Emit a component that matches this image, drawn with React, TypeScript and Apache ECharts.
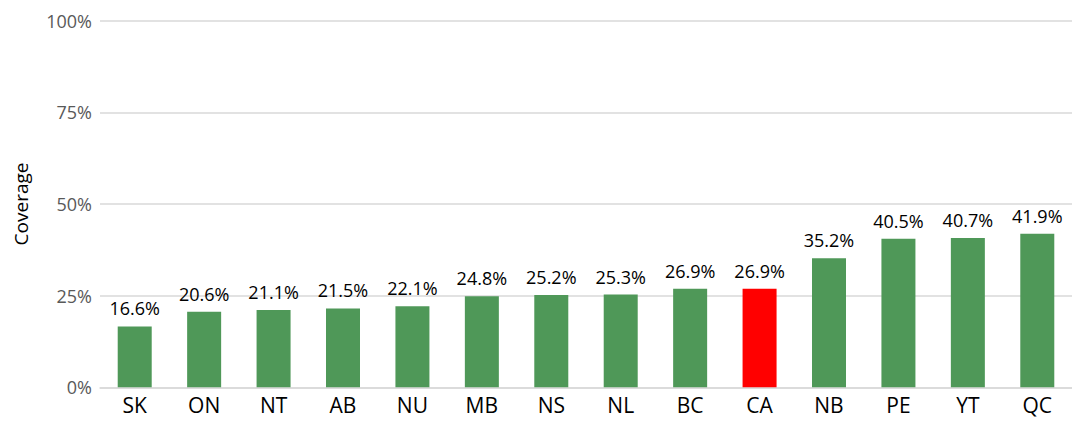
import React, { useEffect, useRef } from "react";
import * as echarts from "echarts";

const categories = ["SK", "ON", "NT", "AB", "NU", "MB", "NS", "NL", "BC", "CA", "NB", "PE", "YT", "QC"];
const coverage = [16.6, 20.6, 21.1, 21.5, 22.1, 24.8, 25.2, 25.3, 26.9, 26.9, 35.2, 40.5, 40.7, 41.9];
const highlight = "CA";
const yTicks = [0, 25, 50, 75, 100];

const FONT = "Open Sans";

export default function App() {
  const ref = useRef<HTMLDivElement>(null);
  useEffect(() => {
    if (!ref.current) return;
    const chart = echarts.init(ref.current, null, { renderer: "svg" });
    chart.setOption({
      animation: false,
      textStyle: { fontFamily: FONT },
      grid: { left: 100, right: -3, top: 20.6, bottom: 48.7 },
      xAxis: {
        type: "category",
        data: categories,
        axisLine: { show: true, lineStyle: { color: "#d9d9d9", width: 1.5 } },
        axisTick: { show: false },
        axisLabel: { color: "#000", fontSize: 21, margin: 7, fontFamily: FONT },
      },
      yAxis: {
        type: "value",
        min: yTicks[0],
        max: yTicks[yTicks.length - 1],
        interval: 25,
        name: "Coverage",
        nameLocation: "middle",
        nameGap: 70,
        nameTextStyle: { color: "#000", fontSize: 19, fontFamily: FONT },
        axisLine: { show: false },
        axisTick: { show: false },
        splitLine: { lineStyle: { color: "#d9d9d9", width: 1.5 } },
        axisLabel: { color: "#595959", fontSize: 18, margin: 8, formatter: "{value}%", fontFamily: FONT },
      },
      series: [
        {
          type: "bar",
          barWidth: 34,
          data: coverage.map((v, i) => ({
            value: v,
            itemStyle: { color: categories[i] === highlight ? "#ff0000" : "#4f9858" },
          })),
          label: {
            show: true,
            position: "top",
            distance: 9,
            color: "#000",
            fontSize: 18,
            fontFamily: FONT,
            formatter: (p: any) => p.value.toFixed(1) + "%",
          },
        },
      ],
    });
    return () => chart.dispose();
  }, []);
  return <div ref={ref} style={{ position: "fixed", left: 0, top: 0, width: 1072, height: 436, background: "#fff" }} />;
}
